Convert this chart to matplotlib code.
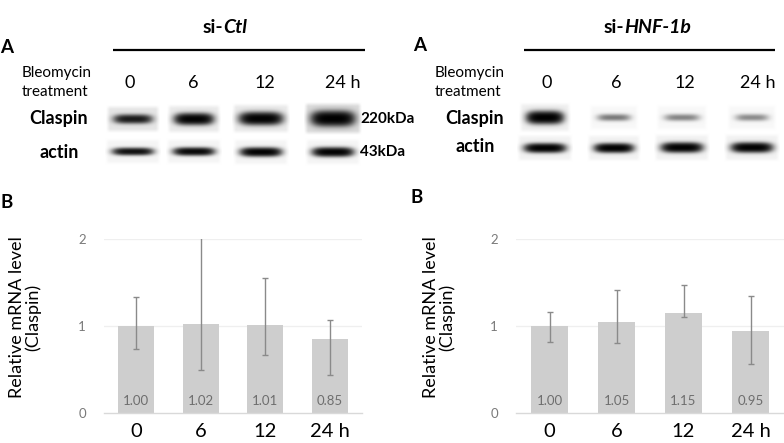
import numpy as np
import matplotlib
matplotlib.use("Agg")
import matplotlib.pyplot as plt

# ---------------- data ----------------
timepoints = ["0", "6", "12", "24 h"]

# western blot band intensities (0 = none, 1 = saturated)
claspin_ctl = [0.70, 0.95, 0.97, 1.00]
actin_ctl = [0.80, 0.88, 0.95, 0.95]
claspin_hnf = [1.00, 0.27, 0.24, 0.22]
actin_hnf = [0.97, 0.97, 0.97, 0.97]

# relative mRNA level (Claspin)
ctl_means = [1.00, 1.02, 1.01, 0.85]
ctl_err_top = [1.34, 2.10, 1.55, 1.07]
ctl_err_bottom = [0.74, 0.50, 0.67, 0.44]
hnf_means = [1.00, 1.05, 1.15, 0.95]
hnf_err_top = [1.16, 1.41, 1.47, 1.35]
hnf_err_bottom = [0.82, 0.81, 1.11, 0.57]

# ---------------- style ----------------
FONT = ["Lato", "DejaVu Sans"]
plt.rcParams["font.family"] = FONT
W, H = 784, 443
fig = plt.figure(figsize=(W / 100, H / 100), dpi=100)
fig.patch.set_facecolor("white")

bg = fig.add_axes([0, 0, 1, 1])
bg.set_xlim(0, W)
bg.set_ylim(H, 0)
bg.axis("off")


def draw_band(ax, cx, cy, hw, ht, intensity, shade, pad_x=9, pad_y=10):
    x0, x1 = cx - hw - pad_x, cx + hw + pad_x
    y0, y1 = cy - ht - pad_y, cy + ht + pad_y
    nx, ny = int((x1 - x0) * 4), int((y1 - y0) * 4)
    xs = np.linspace(x0, x1, nx)
    ys = np.linspace(y0, y1, ny)
    X, Y = np.meshgrid(xs, ys)
    dx = (X - cx) / hw
    dy = (Y - cy) / ht
    prof = np.exp(-np.abs(dx) ** 4) * np.exp(-np.abs(dy) ** 2.2)
    dark = 1 - np.exp(-2.2 * intensity * prof)
    dark = dark / (1 - np.exp(-2.2))
    dark = np.clip(dark, 0, 1)
    # soft background box of the cropped blot strip
    ex = np.clip((x1 - x0) / 2 - np.abs(X - cx), 0, 4) / 4
    ey = np.clip((y1 - y0) / 2 - np.abs(Y - cy), 0, 4) / 4
    box = shade * ex * ey
    val = np.clip(1 - box - dark * (1 - box), 0, 1)
    ax.imshow(val, cmap="gray", vmin=0, vmax=1, extent=(x0, x1, y1, y0),
              interpolation="bilinear", aspect="auto", zorder=2)


def blot_panel(ax, lane_x, label_x, cl_vals, ac_vals, cl_y, ac_y, cl_hw, cl_ht,
               ac_hw, ac_ht, cl_shade, ac_shade):
    for i in range(len(lane_x)):
        draw_band(ax, lane_x[i], cl_y, cl_hw[i], cl_ht[i], cl_vals[i], cl_shade[i])
        draw_band(ax, lane_x[i], ac_y, ac_hw[i], ac_ht[i], ac_vals[i], ac_shade[i])
    for i, t in enumerate(timepoints):
        ax.text(label_x[i], 83, t, ha="center", va="center", fontsize=13, color="black")


# ---- left blot ----
blot_panel(bg, [133, 194, 261, 333], [130, 193, 265, 343],
           claspin_ctl, actin_ctl, 119, 152,
           [18, 18, 20, 20], [4.0, 5.0, 5.5, 6.5],
           [19, 19, 19, 19], [3.2, 3.5, 3.8, 4.0],
           [0.10, 0.08, 0.08, 0.14], [0.04, 0.04, 0.04, 0.04])
# ---- right blot ----
blot_panel(bg, [545, 614, 682, 752], [547, 616, 685, 758],
           claspin_hnf, actin_hnf, 118, 148,
           [17, 16, 17, 16], [5.5, 3.2, 3.2, 3.2],
           [19, 18, 19, 19], [4.0, 4.0, 4.2, 4.2],
           [0.06, 0.03, 0.03, 0.03], [0.05, 0.05, 0.05, 0.05])

# header texts, lines
for (letter_x, letter_y, line_x0, line_x1, split_x, plain, ital) in [
        (0, 47, 113, 365, 223, "si-", "Ctl"),
        (413, 45, 524, 775, 624, "si-", "HNF-1b")]:
    bg.text(letter_x, letter_y, "A", ha="left", va="center", fontsize=13.5, fontweight="bold")
    bg.plot([line_x0, line_x1], [50, 50], color="black", lw=1.6, solid_capstyle="butt")
    bg.text(split_x, 27, plain, ha="right", va="center", fontsize=14, fontweight="bold")
    bg.text(split_x, 27, ital, ha="left", va="center", fontsize=14, fontweight="bold",
            style="italic")

for bx in (22, 435):
    bg.text(bx, 73, "Bleomycin", ha="left", va="center", fontsize=11)
    bg.text(bx, 92, "treatment", ha="left", va="center", fontsize=11)
for cx_lab, cy, ay in [(59, 118, 152), (475, 118, 147)]:
    bg.text(cx_lab, cy, "Claspin", ha="center", va="center", fontsize=13, fontweight="bold")
    bg.text(cx_lab, ay, "actin", ha="center", va="center", fontsize=13, fontweight="bold")
bg.text(360, 119, "220kDa", ha="left", va="center", fontsize=11, fontweight="bold")
bg.text(360, 152, "43kDa", ha="left", va="center", fontsize=11, fontweight="bold")

# B labels
bg.text(0, 202, "B", ha="left", va="center", fontsize=13.5, fontweight="bold")
bg.text(411, 197, "B", ha="left", va="center", fontsize=13.5, fontweight="bold")

# y labels
for lx in (25, 439):
    bg.text(lx, 317, "Relative mRNA level\n(Claspin)", ha="center", va="center",
            rotation=90, fontsize=13, linespacing=1.0)


# ---------------- bar charts ----------------
def bar_chart(rect, means, tops, bottoms):
    ax = fig.add_axes(rect)
    ax.set_facecolor("none")
    x = np.arange(len(timepoints))
    m = np.array(means)
    yerr = [m - np.array(bottoms), np.array(tops) - m]
    ax.bar(x, m, width=0.56, color="#cecece", zorder=2)
    ax.errorbar(x, m, yerr=yerr, fmt="none", ecolor="#8a8a8a", elinewidth=1.0,
                capsize=2.2, capthick=1.0, zorder=3)
    for xi, v in zip(x, means):
        ax.text(xi, 0.145, f"{v:.2f}", ha="center", va="center", fontsize=9.5,
                color="#6e6e6e", zorder=4)
    ax.set_xlim(-0.5, len(timepoints) - 0.5)
    ax.set_ylim(0, 2)
    ax.set_yticks([0, 1, 2])
    ax.set_yticklabels(["0", "1", "2"])
    ax.set_xticks(x)
    ax.set_xticklabels(timepoints)
    ax.tick_params(axis="y", length=0, pad=13, labelsize=9.5, labelcolor="#7a7a7a")
    ax.tick_params(axis="x", length=0, pad=7, labelsize=14.5, labelcolor="black")
    for s in ("top", "right", "left"):
        ax.spines[s].set_visible(False)
    ax.spines["bottom"].set_color("#d9d9d9")
    ax.spines["bottom"].set_linewidth(1.0)
    for gy in (1, 2):
        ax.axhline(gy, color="#efefef", lw=0.9, zorder=1)
    return ax


bottom = (H - 413.3) / H
height = (413.3 - 239) / H
bar_chart([104 / W, bottom, 258 / W, height], ctl_means, ctl_err_top, ctl_err_bottom)
bar_chart([516 / W, bottom, 268 / W, height], hnf_means, hnf_err_top, hnf_err_bottom)

fig.savefig("out.png", dpi=100)
